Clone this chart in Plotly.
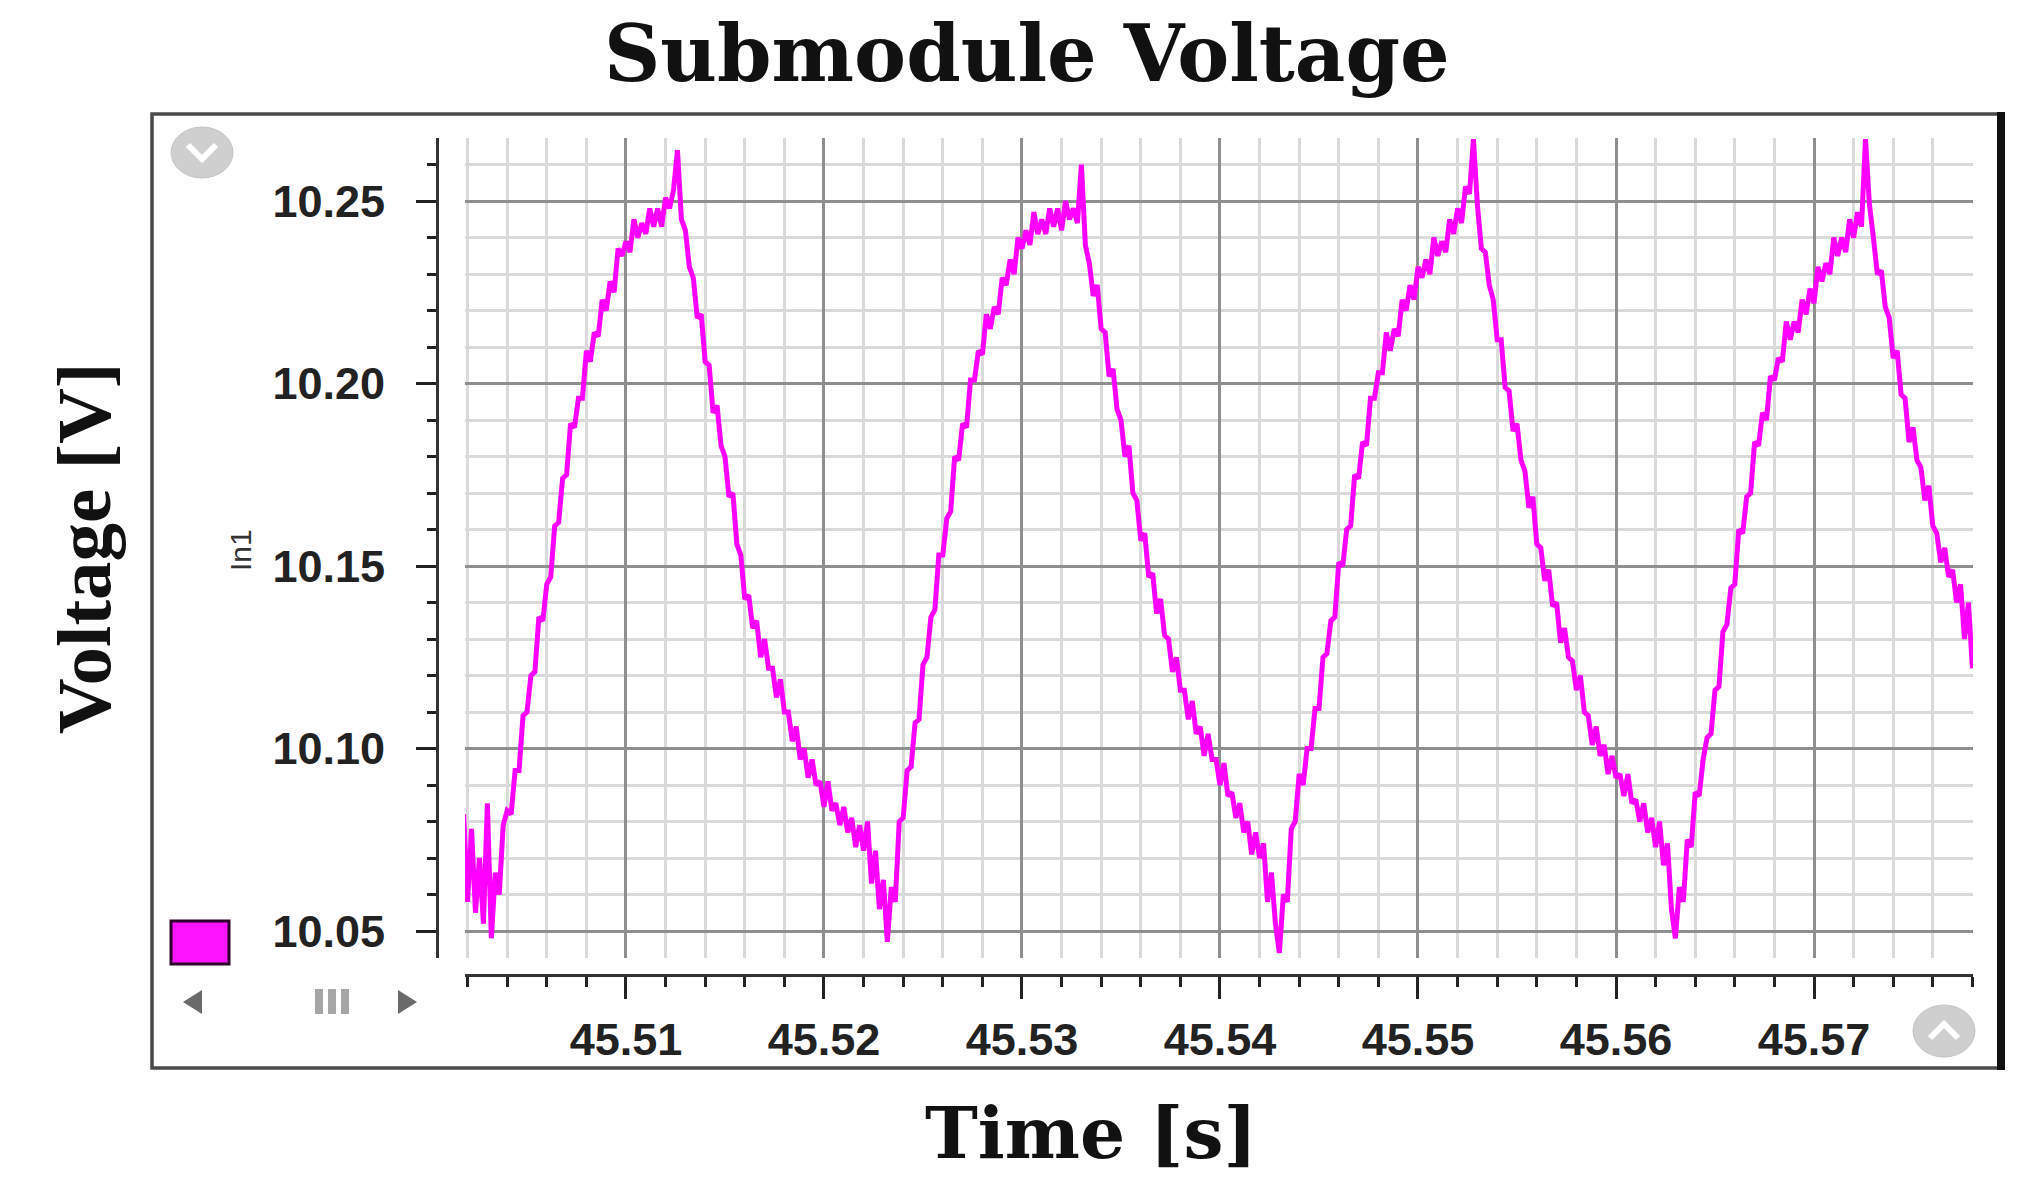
import plotly.graph_objects as go

# ---------------- data ----------------
time_s = [
45.5018,45.5020,45.5022,45.5024,45.5026,45.5028,45.5030,45.5032,45.5034,45.5036,
45.5038,45.5040,45.5042,45.5044,45.5046,45.5048,45.5050,45.5052,45.5054,45.5056,
45.5058,45.5060,45.5062,45.5064,45.5066,45.5068,45.5070,45.5072,45.5074,45.5076,
45.5078,45.5080,45.5082,45.5084,45.5086,45.5088,45.5090,45.5092,45.5094,45.5096,
45.5098,45.5100,45.5102,45.5104,45.5106,45.5108,45.5110,45.5112,45.5114,45.5116,
45.5118,45.5120,45.5122,45.5124,45.5126,45.5128,45.5130,45.5132,45.5134,45.5136,
45.5138,45.5140,45.5142,45.5144,45.5146,45.5148,45.5150,45.5152,45.5154,45.5156,
45.5158,45.5160,45.5162,45.5164,45.5166,45.5168,45.5170,45.5172,45.5174,45.5176,
45.5178,45.5180,45.5182,45.5184,45.5186,45.5188,45.5190,45.5192,45.5194,45.5196,
45.5198,45.5200,45.5202,45.5204,45.5206,45.5208,45.5210,45.5212,45.5214,45.5216,
45.5218,45.5220,45.5222,45.5224,45.5226,45.5228,45.5230,45.5232,45.5234,45.5236,
45.5238,45.5240,45.5242,45.5244,45.5246,45.5248,45.5250,45.5252,45.5254,45.5256,
45.5258,45.5260,45.5262,45.5264,45.5266,45.5268,45.5270,45.5272,45.5274,45.5276,
45.5278,45.5280,45.5282,45.5284,45.5286,45.5288,45.5290,45.5292,45.5294,45.5296,
45.5298,45.5300,45.5302,45.5304,45.5306,45.5308,45.5310,45.5312,45.5314,45.5316,
45.5318,45.5320,45.5322,45.5324,45.5326,45.5328,45.5330,45.5332,45.5334,45.5336,
45.5338,45.5340,45.5342,45.5344,45.5346,45.5348,45.5350,45.5352,45.5354,45.5356,
45.5358,45.5360,45.5362,45.5364,45.5366,45.5368,45.5370,45.5372,45.5374,45.5376,
45.5378,45.5380,45.5382,45.5384,45.5386,45.5388,45.5390,45.5392,45.5394,45.5396,
45.5398,45.5400,45.5402,45.5404,45.5406,45.5408,45.5410,45.5412,45.5414,45.5416,
45.5418,45.5420,45.5422,45.5424,45.5426,45.5428,45.5430,45.5432,45.5434,45.5436,
45.5438,45.5440,45.5442,45.5444,45.5446,45.5448,45.5450,45.5452,45.5454,45.5456,
45.5458,45.5460,45.5462,45.5464,45.5466,45.5468,45.5470,45.5472,45.5474,45.5476,
45.5478,45.5480,45.5482,45.5484,45.5486,45.5488,45.5490,45.5492,45.5494,45.5496,
45.5498,45.5500,45.5502,45.5504,45.5506,45.5508,45.5510,45.5512,45.5514,45.5516,
45.5518,45.5520,45.5522,45.5524,45.5526,45.5528,45.5530,45.5532,45.5534,45.5536,
45.5538,45.5540,45.5542,45.5544,45.5546,45.5548,45.5550,45.5552,45.5554,45.5556,
45.5558,45.5560,45.5562,45.5564,45.5566,45.5568,45.5570,45.5572,45.5574,45.5576,
45.5578,45.5580,45.5582,45.5584,45.5586,45.5588,45.5590,45.5592,45.5594,45.5596,
45.5598,45.5600,45.5602,45.5604,45.5606,45.5608,45.5610,45.5612,45.5614,45.5616,
45.5618,45.5620,45.5622,45.5624,45.5626,45.5628,45.5630,45.5632,45.5634,45.5636,
45.5638,45.5640,45.5642,45.5644,45.5646,45.5648,45.5650,45.5652,45.5654,45.5656,
45.5658,45.5660,45.5662,45.5664,45.5666,45.5668,45.5670,45.5672,45.5674,45.5676,
45.5678,45.5680,45.5682,45.5684,45.5686,45.5688,45.5690,45.5692,45.5694,45.5696,
45.5698,45.5700,45.5702,45.5704,45.5706,45.5708,45.5710,45.5712,45.5714,45.5716,
45.5718,45.5720,45.5722,45.5724,45.5726,45.5728,45.5730,45.5732,45.5734,45.5736,
45.5738,45.5740,45.5742,45.5744,45.5746,45.5748,45.5750,45.5752,45.5754,45.5756,
45.5758,45.5760,45.5762,45.5764,45.5766,45.5768,45.5770,45.5772,45.5774,45.5776,
45.5778,45.5780,
]

voltage_v = [
10.082,10.058,10.078,10.055,10.070,10.052,10.085,10.048,10.066,10.060,
10.079,10.083,10.082,10.094,10.094,10.109,10.110,10.120,10.121,10.136,
10.135,10.145,10.147,10.161,10.162,10.174,10.175,10.189,10.188,10.196,
10.196,10.209,10.206,10.214,10.213,10.223,10.220,10.228,10.225,10.237,
10.235,10.239,10.236,10.245,10.240,10.244,10.241,10.248,10.243,10.248,
10.243,10.251,10.248,10.253,10.264,10.245,10.242,10.232,10.229,10.218,
10.219,10.206,10.205,10.192,10.194,10.183,10.180,10.169,10.170,10.156,
10.153,10.141,10.142,10.133,10.135,10.125,10.130,10.122,10.122,10.114,
10.119,10.110,10.110,10.102,10.106,10.097,10.100,10.092,10.097,10.090,
10.091,10.084,10.091,10.083,10.085,10.079,10.084,10.077,10.081,10.073,
10.079,10.072,10.080,10.063,10.072,10.056,10.064,10.047,10.062,10.058,
10.080,10.081,10.094,10.095,10.107,10.108,10.123,10.125,10.136,10.138,
10.153,10.153,10.163,10.165,10.180,10.179,10.189,10.188,10.201,10.201,
10.209,10.208,10.219,10.215,10.221,10.219,10.229,10.227,10.234,10.230,
10.240,10.237,10.242,10.238,10.247,10.241,10.245,10.241,10.248,10.243,
10.248,10.242,10.250,10.245,10.248,10.244,10.260,10.238,10.233,10.224,
10.227,10.215,10.214,10.202,10.204,10.193,10.190,10.180,10.183,10.170,
10.168,10.157,10.159,10.147,10.148,10.137,10.141,10.131,10.130,10.121,
10.125,10.116,10.116,10.108,10.113,10.104,10.106,10.098,10.104,10.097,
10.097,10.090,10.096,10.087,10.088,10.081,10.085,10.077,10.080,10.071,
10.077,10.070,10.074,10.058,10.066,10.052,10.044,10.060,10.058,10.078,
10.080,10.093,10.090,10.100,10.100,10.111,10.111,10.125,10.126,10.135,
10.136,10.151,10.150,10.160,10.161,10.175,10.174,10.184,10.183,10.196,
10.196,10.203,10.203,10.214,10.209,10.215,10.213,10.223,10.220,10.227,
10.223,10.232,10.229,10.234,10.230,10.240,10.235,10.239,10.236,10.245,
10.241,10.248,10.244,10.254,10.252,10.267,10.249,10.237,10.236,10.227,
10.223,10.212,10.212,10.199,10.198,10.187,10.189,10.179,10.176,10.166,
10.169,10.156,10.155,10.146,10.149,10.139,10.140,10.129,10.133,10.125,
10.124,10.116,10.120,10.110,10.109,10.101,10.106,10.098,10.101,10.093,
10.098,10.092,10.093,10.087,10.093,10.085,10.086,10.080,10.085,10.077,
10.081,10.073,10.080,10.068,10.074,10.056,10.048,10.062,10.058,10.075,
10.073,10.088,10.087,10.097,10.103,10.104,10.116,10.117,10.132,10.134,
10.144,10.145,10.160,10.159,10.169,10.170,10.184,10.183,10.192,10.190,
10.202,10.201,10.207,10.206,10.217,10.212,10.217,10.214,10.223,10.219,
10.226,10.222,10.232,10.228,10.233,10.230,10.240,10.235,10.240,10.236,
10.245,10.240,10.247,10.243,10.267,10.249,10.240,10.230,10.231,10.221,
10.218,10.207,10.209,10.197,10.196,10.184,10.188,10.179,10.177,10.168,
10.172,10.161,10.159,10.151,10.155,10.147,10.149,10.140,10.145,10.130,
10.140,10.122,
]

x_ticks = [45.51, 45.52, 45.53, 45.54, 45.55, 45.56, 45.57]
y_ticks = [10.05, 10.10, 10.15, 10.20, 10.25]

title_text = "Submodule Voltage"
x_title = "Time [s]"
y_title = "Voltage [V]"
channel_label = "In1"

# ---------------- layout helpers (pixel -> paper) ----------------
W, H = 2024, 1196
def px(x):
    return x / W
def py(y):
    return 1 - y / H

fig = go.Figure()
fig.add_trace(go.Scatter(
    x=time_s, y=voltage_v, mode="lines",
    line=dict(color="#ff00ff", width=5),
    showlegend=False, hoverinfo="skip",
))

tick_font = dict(family="Liberation Sans", size=45, color="#222", weight="bold")

fig.update_layout(
    width=W, height=H,
    margin=dict(l=0, r=0, t=0, b=0),
    paper_bgcolor="white", plot_bgcolor="white",
    xaxis=dict(
        domain=[px(465), px(1973)],
        anchor="free", position=py(975),
        range=[45.50187, 45.57803],
        tickvals=x_ticks, ticktext=[f"{v:.2f}" for v in x_ticks],
        showline=True, linecolor="#333", linewidth=3,
        ticks="outside", ticklen=22, tickwidth=3, tickcolor="#222",
        ticklabelstandoff=2,
        showgrid=True, gridcolor="#8f8f8f", gridwidth=2.5,
        minor=dict(dtick=0.002, tick0=45.51, ticks="outside", ticklen=10,
                   tickwidth=3, tickcolor="#222",
                   showgrid=True, gridcolor="#dadada", gridwidth=2.5),
        tickfont=tick_font, zeroline=False, fixedrange=True,
    ),
    yaxis=dict(
        domain=[py(958), py(138)],
        anchor="free", position=px(437),
        range=[10.0426, 10.2673],
        tickvals=y_ticks, ticktext=[f"{v:.2f}" for v in y_ticks],
        showline=True, linecolor="#333", linewidth=3,
        ticks="outside", ticklen=20, tickwidth=3, tickcolor="#222",
        ticklabelstandoff=22,
        showgrid=True, gridcolor="#8f8f8f", gridwidth=2.5,
        minor=dict(dtick=0.01, tick0=10.05, ticks="outside", ticklen=9,
                   tickwidth=3, tickcolor="#222",
                   showgrid=True, gridcolor="#dadada", gridwidth=2.5),
        tickfont=tick_font, zeroline=False, fixedrange=True,
    ),
)

def path_pts(pts, close=False):
    s = "M " + " L ".join(f"{px(a)} {py(b)}" for a, b in pts)
    return s + (" Z" if close else "")

shapes = [
    # outer frame
    dict(type="rect", xref="paper", yref="paper",
         x0=px(152), x1=px(2000), y0=py(1068), y1=py(114),
         line=dict(color="#4a4a4a", width=3.5), layer="below"),
    # thick right edge
    dict(type="line", xref="paper", yref="paper",
         x0=px(2001), x1=px(2001), y0=py(1070), y1=py(112),
         line=dict(color="#111", width=8)),
    # legend colour box
    dict(type="rect", xref="paper", yref="paper",
         x0=px(171), x1=px(229), y0=py(964), y1=py(921),
         fillcolor="#ff14ff", line=dict(color="#2a002a", width=3)),
    # top-left round button
    dict(type="circle", xref="paper", yref="paper",
         x0=px(171), x1=px(233), y0=py(178), y1=py(127),
         fillcolor="#cfcfcf", line=dict(color="#c4c4c4", width=1)),
    dict(type="path", xref="paper", yref="paper",
         path=path_pts([(188, 145), (202, 159), (216, 145)]),
         line=dict(color="white", width=6)),
    # bottom-right round button
    dict(type="circle", xref="paper", yref="paper",
         x0=px(1913), x1=px(1975), y0=py(1057), y1=py(1005),
         fillcolor="#cfcfcf", line=dict(color="#c4c4c4", width=1)),
    dict(type="path", xref="paper", yref="paper",
         path=path_pts([(1930, 1038), (1944, 1024), (1958, 1038)]),
         line=dict(color="white", width=6)),
    # scroll bar: left arrow, grip, right arrow
    dict(type="path", xref="paper", yref="paper",
         path=path_pts([(183, 1002), (202, 990), (202, 1014)], close=True),
         fillcolor="#6a6a6a", line=dict(width=0)),
    dict(type="path", xref="paper", yref="paper",
         path=path_pts([(417, 1002), (398, 990), (398, 1014)], close=True),
         fillcolor="#6a6a6a", line=dict(width=0)),
]
for x0 in (315, 328, 341):
    shapes.append(dict(type="rect", xref="paper", yref="paper",
                       x0=px(x0), x1=px(x0 + 8), y0=py(1014), y1=py(989),
                       fillcolor="#a6a6a6", line=dict(width=0)))
fig.update_layout(shapes=shapes)

annotations = [
    dict(text=f"<b>{title_text}</b>", x=px(1027), y=py(53),
         font=dict(family="DejaVu Serif", size=78, color="#111")),
    dict(text=f"<b>{x_title}</b>", x=px(1091), y=py(1133),
         font=dict(family="DejaVu Serif", size=71, color="#111")),
    dict(text=f"<b>{y_title}</b>", x=px(84), y=py(549), textangle=-90,
         font=dict(family="Liberation Serif", size=77, color="#111")),
    dict(text=channel_label, x=px(240), y=py(550), textangle=-90,
         font=dict(family="Liberation Sans", size=30, color="#333")),
]
for a in annotations:
    a.update(xref="paper", yref="paper", showarrow=False,
             xanchor="center", yanchor="middle")
fig.update_layout(annotations=annotations)

fig.write_html("out.html", config={"displayModeBar": False},
               post_script="document.body.style.margin='0px';")
